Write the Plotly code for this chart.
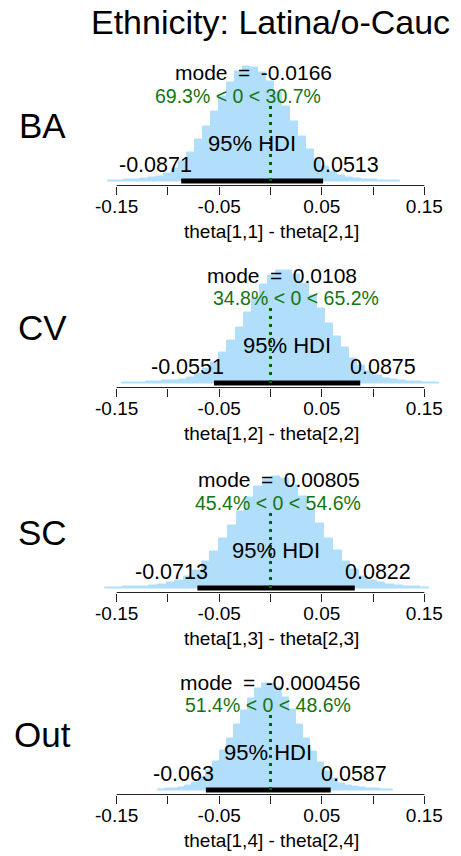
import plotly.graph_objects as go

# ---------------- data ----------------
title_text = "Ethnicity: Latina/o-Cauc"
panel_labels = ["BA", "CV", "SC", "Out"]
axis_titles = ["theta[1,1] - theta[2,1]", "theta[1,2] - theta[2,2]",
               "theta[1,3] - theta[2,3]", "theta[1,4] - theta[2,4]"]
modes = [-0.0166, 0.0108, 0.00805, -0.000456]
mode_labels = ["-0.0166", "0.0108", "0.00805", "-0.000456"]
hdi_low = [-0.0871, -0.0551, -0.0713, -0.063]
hdi_high = [0.0513, 0.0875, 0.0822, 0.0587]
hdi_low_labels = ["-0.0871", "-0.0551", "-0.0713", "-0.063"]
hdi_high_labels = ["0.0513", "0.0875", "0.0822", "0.0587"]
pct_below = ["69.3", "34.8", "45.4", "51.4"]
pct_above = ["30.7", "65.2", "54.6", "48.6"]
comp_val = 0.0

# histogram bins (left edge of first bin, bin width) and estimated heights
bin_start = [-0.1580, -0.1450, -0.1610, -0.1100]
bin_width = [0.00769, 0.00792, 0.00853, 0.00676]

ba_heights = [0.6, 0.8, 1.1, 1.5, 2.0, 2.8, 3.9, 6.5, 11, 17, 25, 36, 48, 61, 74,
              86, 96, 100, 99, 95, 87, 77, 65, 52, 39, 28, 19, 12.5, 8, 4.8, 3.0,
              2.1, 1.5, 1.1, 0.8, 0.6, 0.4]
cv_heights = [0.5, 0.6, 0.8, 1.0, 1.3, 1.8, 2.5, 3.5, 5, 8, 12.5, 18.4, 26.9, 37.5,
              49.3, 62.5, 75.5, 86.9, 95, 99.5, 99.3, 95.2, 87.4, 77.2, 65.5, 52.8,
              41.3, 31, 22, 15.2, 10.1, 6.5, 4.2, 3.0, 2.2, 1.6, 1.1, 0.8, 0.6]
sc_heights = [0.6, 0.8, 1.0, 1.3, 1.7, 2.3, 3.2, 4.5, 6.6, 10.5, 16.1, 23.6, 32.9,
              44.1, 56.4, 69.1, 81.0, 90.8, 97.5, 100, 98.1, 91.9, 82.3, 70.3, 57.6,
              44.8, 33.5, 24.0, 16.2, 10.6, 7.0, 4.5, 3.0, 2.1, 1.5, 1.0, 0.7]
out_heights = [0.8, 1.0, 1.5, 2.5, 4.5, 7.4, 12.0, 18.1, 26.5, 36.5, 48.1, 61.3, 73.8,
               85.5, 94.1, 99.1, 99.6, 95.3, 86.4, 74.9, 61.3, 48.1, 35.5, 25.2, 16.8,
               10.8, 6.5, 4.2, 2.8, 2.0, 1.5, 1.1, 0.9, 0.7]
heights = [ba_heights, cv_heights, sc_heights, out_heights]

tick_vals = [-0.15, -0.10, -0.05, 0.0, 0.05, 0.10, 0.15]
tick_text = ["-0.15", "", "-0.05", "", "0.05", "", "0.15"]

# ---------------- layout / style ----------------
W, H = 461, 856
FONT = "Liberation Sans, Arial, sans-serif"
FILL = "#B1DEFB"
GREEN = "#006400"
GREEN_TXT = "#137513"
axis_px = [185.5, 387.5, 592.5, 794.5]   # y pixel of each panel's axis line
peak_px = [114.3, 113.0, 111.3, 107.0]   # peak bar height in pixels
base_off = 4.5                           # histogram base above axis line
dom_h = 135.0                            # panel height in pixels
x0_px, ppx = 270.5, 1025.6               # pixel of x=0, pixels per unit
x_range = [(0 - x0_px) / ppx, (W - x0_px) / ppx]

AW = {'0': .556, '1': .556, '2': .556, '3': .556, '4': .556, '5': .556, '6': .556,
      '7': .556, '8': .556, '9': .556, '.': .278, '-': .333, '%': .889, ' ': .278,
      '<': .584}


def text_w(s, size):
    return sum(AW.get(c, .556) for c in s) * size


def py(px):
    return 1 - px / H


fig = go.Figure()
shapes, annotations = [], []
layout_axes = {}

for i in range(4):
    n = "" if i == 0 else str(i + 1)
    xa, ya = "x" + n, "y" + n
    A = axis_px[i]
    hts = heights[i]
    bw = bin_width[i]
    centers = [bin_start[i] + bw * (k + 0.5) for k in range(len(hts))]
    ppu = peak_px[i] / max(hts)

    fig.add_trace(go.Bar(x=centers, y=hts, width=bw, xaxis=xa, yaxis=ya,
                         marker=dict(color=FILL, line=dict(color=FILL, width=1)),
                         showlegend=False, hoverinfo="skip"))

    layout_axes["xaxis" + n] = dict(
        domain=[0, 1], range=x_range, anchor=ya, showgrid=False, zeroline=False,
        showline=False, tickmode="array", tickvals=tick_vals, ticktext=tick_text,
        ticks="outside", ticklen=8, tickwidth=1, tickcolor="#222",
        ticklabelstandoff=-4,
        tickfont=dict(family=FONT, size=19, color="black"), fixedrange=True)
    layout_axes["yaxis" + n] = dict(
        domain=[py(A), py(A - dom_h)],
        range=[-base_off / ppu, (dom_h - base_off) / ppu],
        anchor=xa, visible=False, fixedrange=True)

    # axis line spanning the tick range
    shapes.append(dict(type="line", xref=xa, yref="paper", x0=tick_vals[0],
                       x1=tick_vals[-1], y0=py(A), y1=py(A),
                       line=dict(color="#222", width=1)))
    # HDI bar
    shapes.append(dict(type="line", xref=xa, yref=ya, x0=hdi_low[i], x1=hdi_high[i],
                       y0=0, y1=0, line=dict(color="black", width=5)))
    # comparison value dotted line
    shapes.append(dict(type="line", xref=xa, yref=ya, x0=comp_val, x1=comp_val,
                       y0=0, y1=(82.5 - base_off) / ppu,
                       line=dict(color=GREEN, width=3, dash="3px,5px")))

    # mode text
    annotations.append(dict(x=modes[i], xref=xa, y=py(A - 112.5), yref="paper",
                            text="mode\u2002=\u2002" + mode_labels[i], showarrow=False,
                            xanchor="center", yanchor="middle",
                            font=dict(family=FONT, size=21, color="black")))
    # percent text
    pct = pct_below[i] + "% < 0 < " + pct_above[i] + "%"
    frac = float(pct_below[i]) / 100.0
    gw = text_w(pct, 19.5)
    annotations.append(dict(x=comp_val, xref=xa, y=py(A - 90), yref="paper", text=pct,
                            showarrow=False, xanchor="center", yanchor="middle",
                            xshift=(0.5 - frac) * gw,
                            font=dict(family=FONT, size=19.5, color=GREEN_TXT)))
    # HDI label
    annotations.append(dict(x=(hdi_low[i] + hdi_high[i]) / 2, xref=xa, y=py(A - 42),
                            yref="paper", text="95% HDI", showarrow=False,
                            xanchor="center", yanchor="middle",
                            font=dict(family=FONT, size=22, color="black")))
    # HDI limits
    lw = text_w(hdi_low_labels[i], 21.5)
    annotations.append(dict(x=hdi_low[i], xref=xa, y=py(A - 21), yref="paper",
                            text=hdi_low_labels[i], showarrow=False, xanchor="right",
                            yanchor="middle", xshift=0.17 * lw,
                            font=dict(family=FONT, size=21.5, color="black")))
    hw = text_w(hdi_high_labels[i], 21.5)
    annotations.append(dict(x=hdi_high[i], xref=xa, y=py(A - 21), yref="paper",
                            text=hdi_high_labels[i], showarrow=False, xanchor="left",
                            yanchor="middle", xshift=-0.18 * hw,
                            font=dict(family=FONT, size=21.5, color="black")))
    # axis title
    annotations.append(dict(x=271 / W, xref="paper", y=py(A + 46), yref="paper",
                            text=axis_titles[i], showarrow=False, xanchor="center",
                            yanchor="middle",
                            font=dict(family=FONT, size=19, color="black")))
    # panel label
    annotations.append(dict(x=42 / W, xref="paper", y=py(A - 60), yref="paper",
                            text=panel_labels[i], showarrow=False, xanchor="center",
                            yanchor="middle",
                            font=dict(family=FONT, size=35, color="black")))

annotations.append(dict(x=270 / W, xref="paper", y=py(22), yref="paper",
                        text=title_text, showarrow=False, xanchor="center",
                        yanchor="middle", font=dict(family=FONT, size=34, color="black")))

fig.update_layout(width=W, height=H, autosize=False,
                  margin=dict(l=0, r=0, t=0, b=0, pad=0),
                  paper_bgcolor="white", plot_bgcolor="white",
                  bargap=0, shapes=shapes, annotations=annotations,
                  **layout_axes)

fig.write_html("out.html")
